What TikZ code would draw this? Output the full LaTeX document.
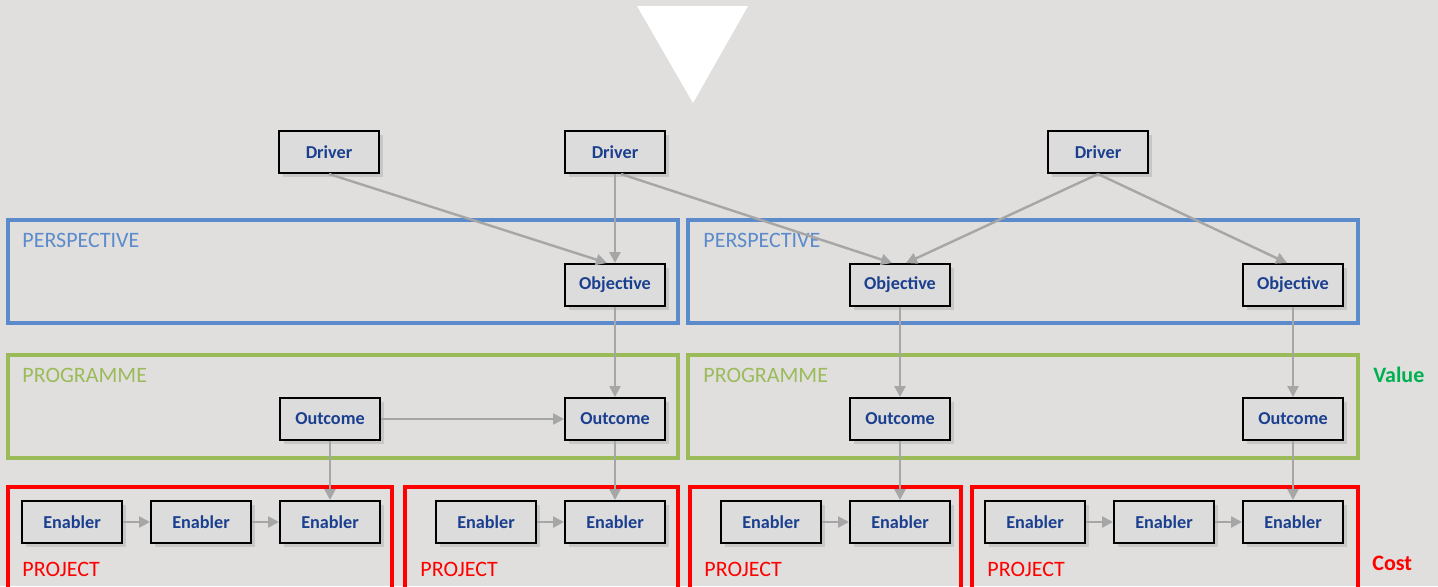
\documentclass[tikz,border=0pt]{standalone}
\usepackage{fontspec}
\setmainfont{Carlito}
\usetikzlibrary{arrows.meta,shadows}
\definecolor{bgcol}{HTML}{E0DFDE}
\definecolor{boxcol}{HTML}{DCDCDC}
\definecolor{txtcol}{HTML}{1B3F8F}
\definecolor{perscol}{HTML}{5B8BCB}
\definecolor{progcol}{HTML}{9BBB59}
\definecolor{projcol}{HTML}{FF0000}
\definecolor{valcol}{HTML}{00B050}
\definecolor{arrcol}{HTML}{A6A6A6}
\begin{document}
\begin{tikzpicture}[x=0.5pt,y=-0.5pt,
    item/.style={rectangle, draw=black, line width=1pt, fill=boxcol, minimum width=50pt, minimum height=21pt,
        inner sep=0pt, text=txtcol, font=\fontsize{9.1}{10}\selectfont\bfseries,
        drop shadow={shadow xshift=2pt, shadow yshift=-2pt, opacity=0.25}},
    link/.style={draw=arrcol, line width=1.2pt, -{Triangle[width=5.5pt,length=5.5pt]}},
    frame/.style={line width=1.7pt},
    tag/.style={anchor=west, inner sep=0pt, font=\fontsize{11}{13}\selectfont}]
    \useasboundingbox (0,0) rectangle (1438,586);
    \fill[bgcol] (0,0) rectangle (1438,586);
    \clip (0,0) rectangle (1438,586);
    % top marker
    \fill[white] (637,6) -- (748,6) -- (693,103) -- cycle;

    % layers
    \draw[frame, perscol] (8,220) rectangle (678,323);
    \draw[frame, perscol] (688,220) rectangle (1358,323);
    \draw[frame, progcol] (8,355) rectangle (678,458);
    \draw[frame, progcol] (688,355) rectangle (1358,458);
    \draw[frame, projcol] (8,487) rectangle (392,600);
    \draw[frame, projcol] (405,487) rectangle (678,600);
    \draw[frame, projcol] (690,487) rectangle (961,600);
    \draw[frame, projcol] (972,487) rectangle (1358,600);

    \node (persA) [tag, text=perscol] at (22,240) {PERSPECTIVE};
    \node (persB) [tag, text=perscol] at (703,240) {PERSPECTIVE};
    \node (progA) [tag, text=progcol] at (22,375) {PROGRAMME};
    \node (progB) [tag, text=progcol] at (703,375) {PROGRAMME};
    \node (projA) [tag, text=projcol] at (22,569) {PROJECT};
    \node (projB) [tag, text=projcol] at (420,569) {PROJECT};
    \node (projC) [tag, text=projcol] at (704,569) {PROJECT};
    \node (projD) [tag, text=projcol] at (987,569) {PROJECT};
    \node (value) [tag, text=valcol, font=\fontsize{11}{13}\selectfont\bfseries] at (1373,375) {Value};
    \node (cost) [tag, text=projcol, font=\fontsize{11}{13}\selectfont\bfseries] at (1372,563) {Cost};

    % drivers
    \node (drv1) [item] at (329,152) {Driver};
    \node (drv2) [item] at (615,152) {Driver};
    \node (drv3) [item] at (1098,152) {Driver};
    % objectives
    \node (obj1) [item] at (615,285) {Objective};
    \node (obj2) [item] at (900,285) {Objective};
    \node (obj3) [item] at (1293,285) {Objective};
    % outcomes
    \node (out1) [item] at (330,419) {Outcome};
    \node (out2) [item] at (615,419) {Outcome};
    \node (out3) [item] at (900,419) {Outcome};
    \node (out4) [item] at (1293,419) {Outcome};
    % enablers
    \node (en1) [item] at (72,522) {Enabler};
    \node (en2) [item] at (201,522) {Enabler};
    \node (en3) [item] at (330,522) {Enabler};
    \node (en4) [item] at (486,522) {Enabler};
    \node (en5) [item] at (615,522) {Enabler};
    \node (en6) [item] at (771,522) {Enabler};
    \node (en7) [item] at (900,522) {Enabler};
    \node (en8) [item] at (1035,522) {Enabler};
    \node (en9) [item] at (1164,522) {Enabler};
    \node (en10) [item] at (1293,522) {Enabler};

    % links
    \draw[link] (drv1.south) -- ([xshift=-4pt]obj1.north);
    \draw[link] (drv2.south) -- (obj1.north);
    \draw[link] ([xshift=3pt]drv2.south) -- ([xshift=-4pt]obj2.north);
    \draw[link] (drv3.south) -- ([xshift=3pt]obj2.north);
    \draw[link] (drv3.south) -- ([xshift=-3pt]obj3.north);
    \draw[link] (obj1) -- (out2);
    \draw[link] (obj2) -- (out3);
    \draw[link] (obj3) -- (out4);
    \draw[link] (out1) -- (out2);
    \draw[link] (out1) -- (en3);
    \draw[link] (out2) -- (en5);
    \draw[link] (out3) -- (en7);
    \draw[link] (out4) -- (en10);
    \draw[link] (en1) -- (en2);
    \draw[link] (en2) -- (en3);
    \draw[link] (en4) -- (en5);
    \draw[link] (en6) -- (en7);
    \draw[link] (en8) -- (en9);
    \draw[link] (en9) -- (en10);
\end{tikzpicture}
\end{document}
